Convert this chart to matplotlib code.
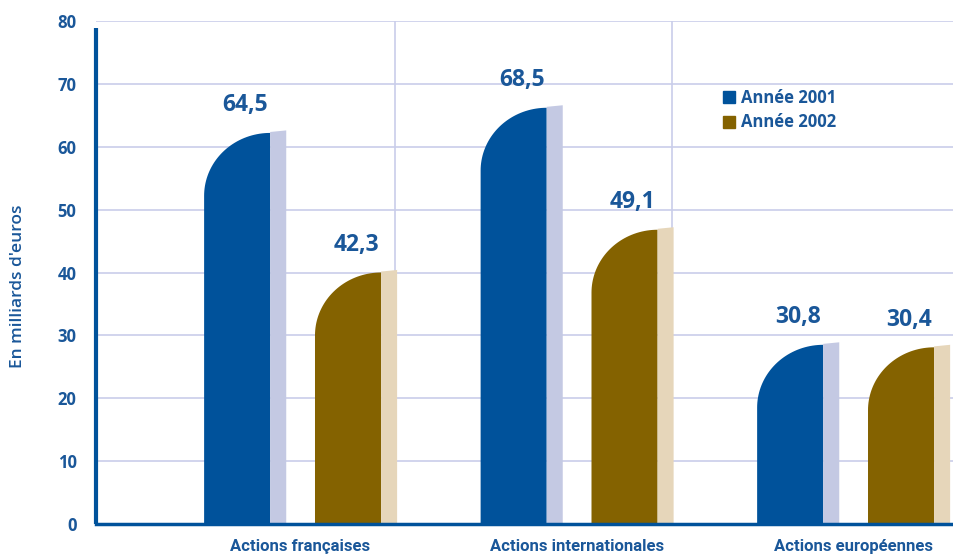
import numpy as np
import matplotlib.pyplot as plt
from matplotlib.patches import Polygon
from matplotlib.lines import Line2D

# data
categories = ['Actions françaises', 'Actions internationales', 'Actions européennes']
series_names = ['Année 2001', 'Année 2002']
values_2001 = [64.5, 68.5, 30.8]
values_2002 = [42.3, 49.1, 30.4]
y_ticks = [0, 10, 20, 30, 40, 50, 60, 70, 80]

# style
blue = '#00529b'
brown = '#846200'
side_colors = ['#c4c9e3', '#e6d6ba']
front_colors = [blue, brown]
text_blue = '#1a5799'
grid_col = '#c9cdea'
front_w = 0.239
side_w = 0.058
offsets = [-0.347, 0.054]   # left edge of each bar's front, relative to group centre
depth = 2.3                 # perspective drop of the bar top
corner_h = 10.0             # vertical size of the rounded corner

plt.rcParams['font.family'] = ['Open Sans', 'DejaVu Sans']

fig = plt.figure(figsize=(9.54, 5.58), dpi=100)
ax = fig.add_axes([96 / 954, 34 / 558, 858 / 954, 503 / 558])
ax.set_xlim(-0.738, 2.365)
ax.set_ylim(0, 80)

for y in y_ticks[1:]:
    ax.axhline(y, color=grid_col, lw=1.2, zorder=0)
for i in range(len(categories) - 1):
    ax.axvline(i + 0.345, color=grid_col, lw=1.2, zorder=0)


def rounded_bar(x0, value, color, side_color):
    top = value - depth
    t = np.linspace(0, np.pi / 2, 40)
    xs = x0 + front_w - front_w * np.cos(t)
    ys = top - corner_h + corner_h * np.sin(t)
    pts = [(x0, 0)] + list(zip(xs, ys)) + [(x0 + front_w, 0)]
    ax.add_patch(Polygon(pts, closed=True, facecolor=color, edgecolor='none', zorder=2))
    xr = x0 + front_w
    side = [(xr, 0), (xr, top + 0.15), (xr + side_w, top + 0.4), (xr + side_w, 0)]
    ax.add_patch(Polygon(side, closed=True, facecolor=side_color, edgecolor='none', zorder=2))
    ax.text(x0 + (front_w + side_w) / 2, value + 0.2, f'{value:.1f}'.replace('.', ','),
            ha='center', va='bottom', fontsize=16.5, fontweight='bold', color=text_blue)


for s, vals in enumerate([values_2001, values_2002]):
    for i, v in enumerate(vals):
        rounded_bar(i + offsets[s], v, front_colors[s], side_colors[s])

for sp in ['top', 'right', 'left']:
    ax.spines[sp].set_visible(False)
ax.spines['bottom'].set_color(blue)
ax.spines['bottom'].set_linewidth(2.5)
ax.spines['bottom'].set_zorder(3)
ax.plot([-0.738, -0.738], [0, 78.9], color=blue, lw=3, zorder=3, clip_on=False,
        solid_capstyle='butt')

ax.set_yticks(y_ticks)
ax.set_yticklabels([str(t) for t in y_ticks], fontsize=12, fontweight='bold', color=text_blue)
ax.tick_params(axis='y', length=0, pad=14)
ax.set_xticks(range(len(categories)))
ax.set_xticklabels(categories, family=['Roboto', 'DejaVu Sans'],
                   fontsize=12, fontweight='bold', color=text_blue)
ax.tick_params(axis='x', length=0, pad=11)

fig.text(18 / 954, 1 - 286 / 558, "En milliards d'euros", rotation=90, ha='center', va='center',
         fontsize=12.5, fontweight='semibold', color=text_blue)

handles = [Line2D([], [], marker='s', ls='none', markersize=9, color=c) for c in front_colors]
ax.legend(handles, series_names, loc='upper left', bbox_to_anchor=(0.712, 0.895), frameon=False,
          handletextpad=0.35, labelspacing=0.4, prop={'size': 12, 'weight': 'bold'},
          labelcolor=text_blue, handlelength=0.8)

fig.savefig('out.png', dpi=100)
